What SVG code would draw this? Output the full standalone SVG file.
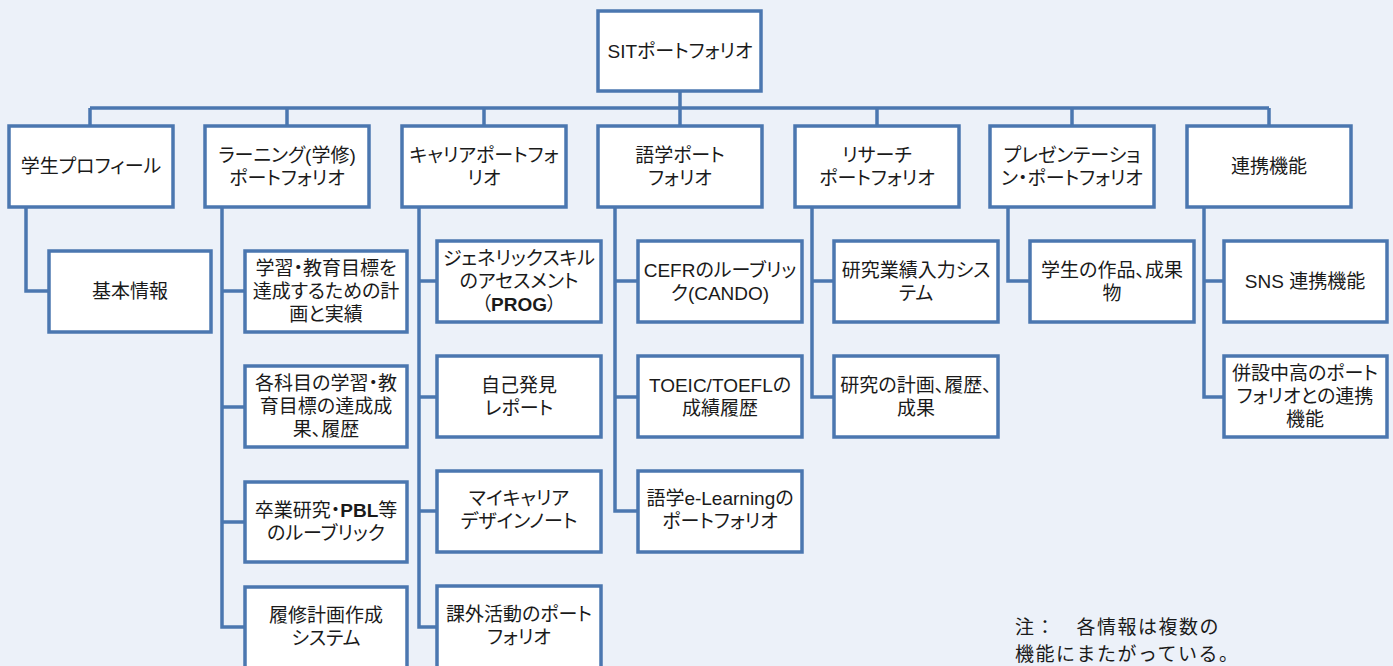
<svg xmlns="http://www.w3.org/2000/svg" width="1393" height="666" viewBox="0 0 1393 666">
<style>
.bx{fill:#ffffff;stroke:#4B77B0;stroke-width:3.5}
.cn{fill:none;stroke:#4B77B0;stroke-width:3.5}
text{font-family:"Liberation Sans","Noto Sans CJK JP",sans-serif;font-size:19px;fill:#1a1a1a;text-anchor:middle;dominant-baseline:central;font-feature-settings:"palt"}
.note{text-anchor:start;font-size:19px;letter-spacing:1.5px;font-feature-settings:normal}
.b{font-weight:bold}
</style>
<rect x="0" y="0" width="1393" height="666" fill="#ECF1F9"/>
<g id="connectors">
<path class="cn" d="M680 91V108M90 108H1269M90 108V126M287 108V126M484 108V126M680 108V126M877 108V126M1072 108V126M1269 108V126"/>
<path class="cn" d="M26 207V291H49"/>
<path class="cn" d="M222 207V627H245M222 291H245M222 407H245M222 522H245"/>
<path class="cn" d="M419 207V627H437M419 281H437M419 397H437M419 511H437"/>
<path class="cn" d="M615 207V511H638M615 281H638M615 397H638"/>
<path class="cn" d="M812 207V397H834M812 281H834"/>
<path class="cn" d="M1008 207V281H1030"/>
<path class="cn" d="M1204 207V397H1224M1204 281H1224"/>
</g>
<g id="root"><rect class="bx" x="598" y="11" width="163" height="80"/><text x="680" y="51">SITポートフォリオ</text></g>
<g id="n-profile"><rect class="bx" x="9" y="126" width="164" height="81"/><text x="91" y="166">学生プロフィール</text></g>
<g id="n-learning"><rect class="bx" x="205" y="126" width="164" height="81"/><text x="287" y="155">ラーニング(学修)<tspan x="287" dy="23">ポートフォリオ</tspan></text></g>
<g id="n-career"><rect class="bx" x="402" y="126" width="164" height="81"/><text x="484" y="155">キャリアポートフォ<tspan x="484" dy="23">リオ</tspan></text></g>
<g id="n-lang"><rect class="bx" x="598" y="126" width="164" height="81"/><text x="680" y="155">語学ポート<tspan x="680" dy="23">フォリオ</tspan></text></g>
<g id="n-research"><rect class="bx" x="795" y="126" width="164" height="81"/><text x="877" y="155">リサーチ<tspan x="877" dy="23">ポートフォリオ</tspan></text></g>
<g id="n-present"><rect class="bx" x="990" y="126" width="164" height="81"/><text x="1072" y="155">プレゼンテーショ<tspan x="1072" dy="23">ン・ポートフォリオ</tspan></text></g>
<g id="n-link"><rect class="bx" x="1187" y="126" width="164" height="81"/><text x="1269" y="166">連携機能</text></g>

<g id="c-basic"><rect class="bx" x="49" y="251" width="162" height="81"/><text x="130" y="291">基本情報</text></g>

<g id="c-l1"><rect class="bx" x="245" y="251" width="162" height="81"/><text x="326" y="268">学習・教育目標を<tspan x="326" dy="23">達成するための計</tspan><tspan x="326" dy="23">画と実績</tspan></text></g>
<g id="c-l2"><rect class="bx" x="245" y="366" width="162" height="81"/><text x="326" y="383">各科目の学習・教<tspan x="326" dy="23">育目標の達成成</tspan><tspan x="326" dy="23">果、履歴</tspan></text></g>
<g id="c-l3"><rect class="bx" x="245" y="482" width="162" height="80"/><text x="326" y="510">卒業研究・<tspan class="b">PBL</tspan>等<tspan x="326" dy="23">のルーブリック</tspan></text></g>
<g id="c-l4"><rect class="bx" x="245" y="587" width="162" height="82"/><text x="326" y="615">履修計画作成<tspan x="326" dy="23">システム</tspan></text></g>

<g id="c-c1"><rect class="bx" x="437" y="241" width="164" height="81"/><text x="519" y="258">ジェネリックスキル<tspan x="519" dy="23">のアセスメント</tspan><tspan x="519" dy="23">（<tspan class="b">PROG</tspan>）</tspan></text></g>
<g id="c-c2"><rect class="bx" x="437" y="356" width="164" height="81"/><text x="519" y="385">自己発見<tspan x="519" dy="23">レポート</tspan></text></g>
<g id="c-c3"><rect class="bx" x="437" y="471" width="164" height="81"/><text x="519" y="498">マイキャリア<tspan x="519" dy="23">デザインノート</tspan></text></g>
<g id="c-c4"><rect class="bx" x="437" y="586" width="164" height="83"/><text x="519" y="614">課外活動のポート<tspan x="519" dy="23">フォリオ</tspan></text></g>

<g id="c-g1"><rect class="bx" x="638" y="241" width="164" height="81"/><text x="720" y="270">CEFRのルーブリッ<tspan x="720" dy="23">ク(CANDO)</tspan></text></g>
<g id="c-g2"><rect class="bx" x="638" y="356" width="164" height="81"/><text x="720" y="385">TOEIC/TOEFLの<tspan x="720" dy="23">成績履歴</tspan></text></g>
<g id="c-g3"><rect class="bx" x="638" y="471" width="164" height="81"/><text x="720" y="498">語学e-Learningの<tspan x="720" dy="23">ポートフォリオ</tspan></text></g>

<g id="c-r1"><rect class="bx" x="834" y="241" width="164" height="81"/><text x="916" y="270">研究業績入力シス<tspan x="916" dy="23">テム</tspan></text></g>
<g id="c-r2"><rect class="bx" x="834" y="356" width="164" height="81"/><text x="916" y="385">研究の計画、履歴、<tspan x="916" dy="23">成果</tspan></text></g>

<g id="c-p1"><rect class="bx" x="1030" y="241" width="164" height="81"/><text x="1112" y="270">学生の作品、成果<tspan x="1112" dy="23">物</tspan></text></g>

<g id="c-k1"><rect class="bx" x="1224" y="241" width="163" height="81"/><text x="1305" y="281">SNS 連携機能</text></g>
<g id="c-k2"><rect class="bx" x="1224" y="356" width="163" height="81"/><text x="1305" y="373">併設中高のポート<tspan x="1305" dy="23">フォリオとの連携</tspan><tspan x="1305" dy="23">機能</tspan></text></g>

<g id="note"><text class="note" x="1015" y="627">注：　各情報は複数の<tspan x="1015" dy="27">機能にまたがっている。</tspan></text></g>
</svg>
